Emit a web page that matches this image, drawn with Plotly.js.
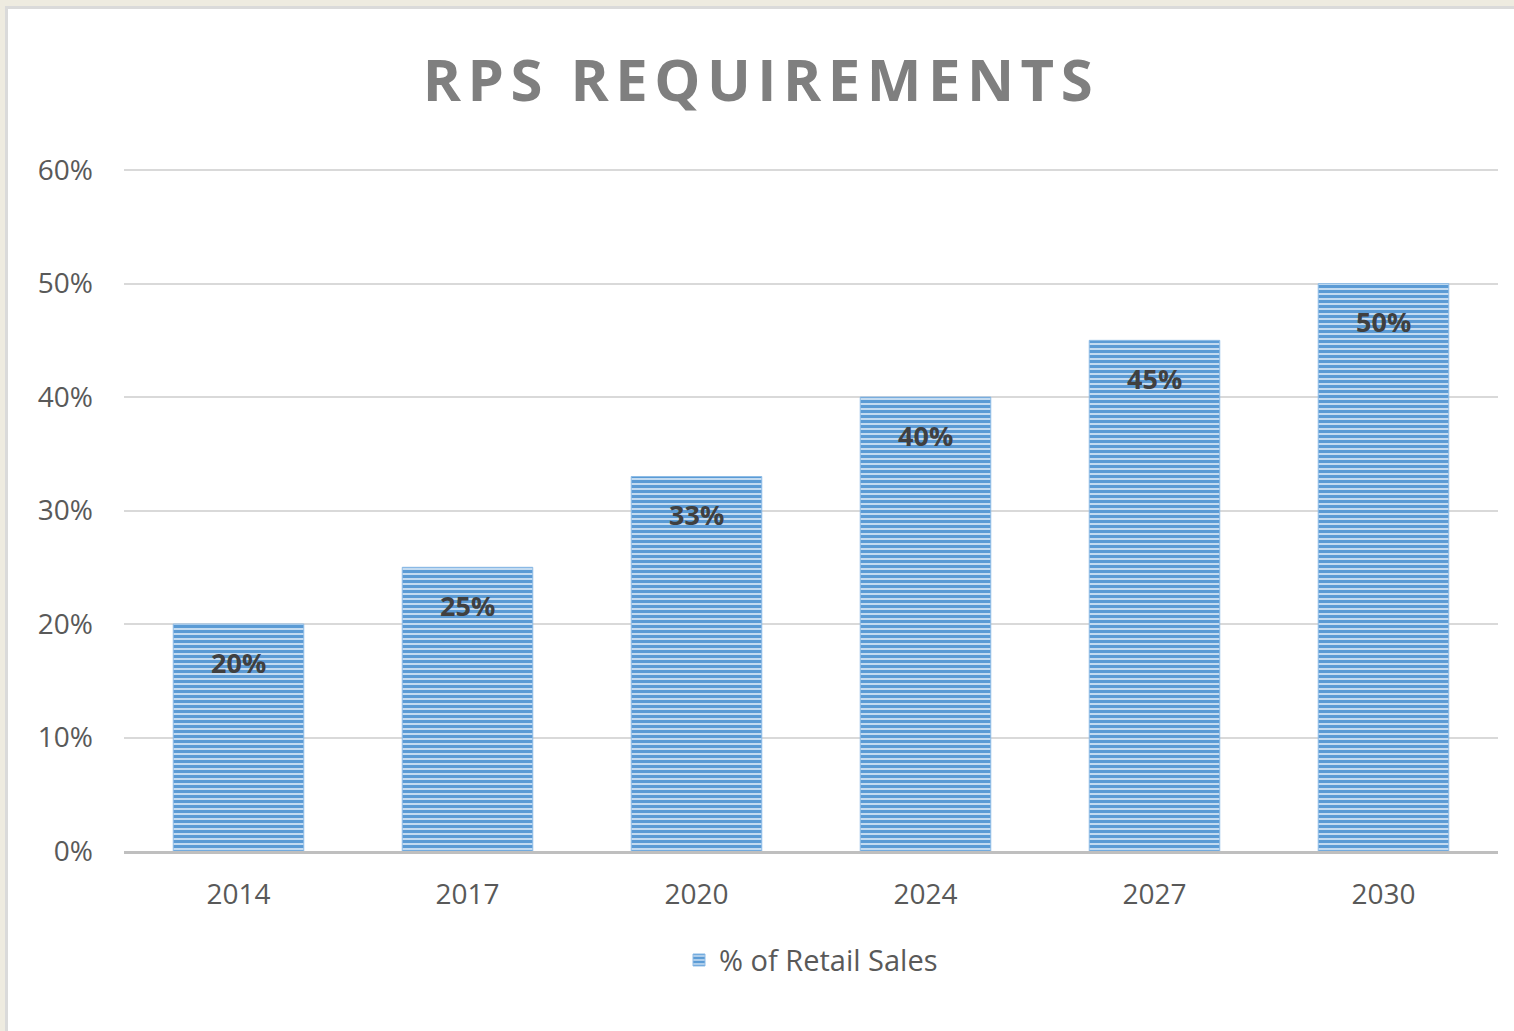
<!DOCTYPE html>
<html>
<head>
<meta charset="utf-8">
<script src="https://cdn.plot.ly/plotly-3.0.1.min.js"></script>
<style>
  html, body { margin: 0; padding: 0; background: #eeebe0; width: 1514px; height: 1031px; overflow: hidden; }
  #frame { position: absolute; left: 5px; top: 6px; width: 1520px; height: 1040px; border: 3px solid #dadada; background: #ffffff; }
  #chart { position: absolute; left: 0; top: 0; width: 1506px; height: 1022px; }
</style>
</head>
<body>
<div id="frame"><div id="chart"></div></div>
<script>
const years = ['2014', '2017', '2020', '2024', '2027', '2030'];
const retailShare = [0.20, 0.25, 0.33, 0.40, 0.45, 0.50];
const yTickValues = [0, 0.1, 0.2, 0.3, 0.4, 0.5, 0.6];
const seriesName = '% of Retail Sales';
const chartTitle = 'RPS REQUIREMENTS';

const fontFamily = '"Open Sans", "DejaVu Sans", sans-serif';

const trace = {
  type: 'bar',
  x: years,
  y: retailShare,
  name: seriesName,
  showlegend: true,
  marker: {
    color: '#7aaee0',
    line: { color: '#8dbbe6', width: 1 },
    pattern: { shape: '-', fgcolor: '#5b9bd5', bgcolor: '#c3dbf1', size: 5, solidity: 0.6, fillmode: 'replace' }
  },
  hoverinfo: 'x+y'
};

// annotations placed by category index on the library's category axis
const annotations = years.map((yr, i) => ({
  x: i,
  y: retailShare[i],
  xref: 'x',
  yref: 'y',
  text: Math.round(retailShare[i] * 100) + '%',
  showarrow: false,
  yanchor: 'middle',
  yshift: -38,
  font: { family: fontFamily, size: 27, color: '#404040', weight: 'bold' }
}));

const layout = {
  width: 1506,
  height: 1022,
  paper_bgcolor: '#ffffff',
  plot_bgcolor: '#ffffff',
  margin: { l: 116, r: 16, t: 160, b: 180 },
  bargap: 0.43,
  title: {
    text: '<b>' + chartTitle + '</b>',
    x: 0.5,
    xanchor: 'center',
    y: 0.9295,
    yanchor: 'middle',
    font: { family: fontFamily, size: 58, color: '#7f7f7f' }
  },
  xaxis: {
    type: 'category',
    categoryorder: 'array',
    categoryarray: years,
    range: [-0.5, years.length - 0.5],
    tickfont: { family: fontFamily, size: 28, color: '#595959' },
    showline: true,
    linecolor: '#bfbfbf',
    linewidth: 3,
    ticks: '',
    showgrid: false,
    zeroline: false,
    ticklabelstandoff: 16
  },
  yaxis: {
    range: [0, 0.601],
    tickvals: yTickValues,
    tickformat: '.0%',
    tickfont: { family: fontFamily, size: 28, color: '#595959' },
    showgrid: true,
    gridcolor: '#d9d9d9',
    gridwidth: 2,
    showline: false,
    zeroline: false,
    ticks: '',
    ticklabelstandoff: 30
  },
  legend: {
    orientation: 'h',
    x: 0.5,
    xanchor: 'center',
    y: -0.16,
    yanchor: 'middle',
    font: { family: fontFamily, size: 29, color: '#595959' }
  },
  annotations: annotations
};

Plotly.newPlot('chart', [trace], layout, { displayModeBar: false, responsive: false }).then(function (gd) {
  const t = gd.querySelector('.gtitle');
  if (t) { t.style.letterSpacing = '6.5px'; }
});
</script>
</body>
</html>
